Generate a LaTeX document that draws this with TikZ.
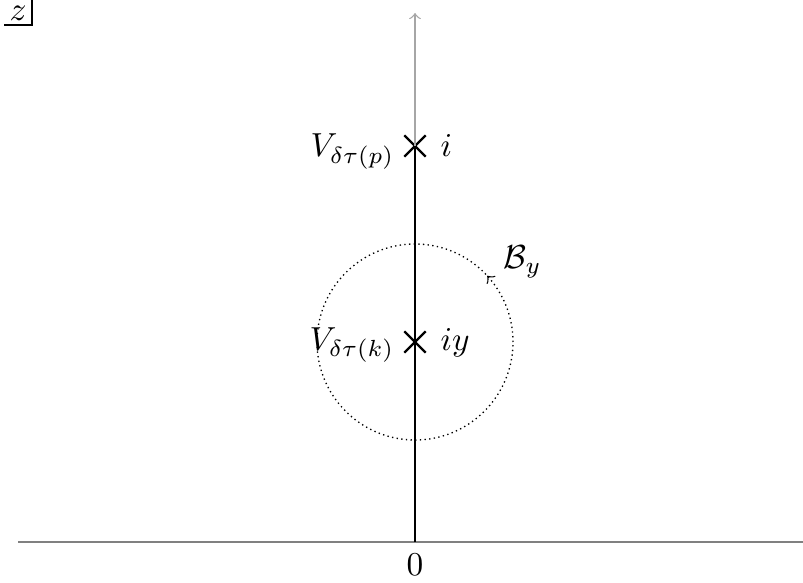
\documentclass[tikz,border=0pt]{standalone}
\usetikzlibrary{shapes.misc,decorations.markings}
\begin{document}
\begin{tikzpicture}[x=0.3pt,y=0.3pt,
  pole/.style={cross out,draw=black,line width=0.7pt,minimum size=5.7pt,inner sep=0pt},
  axisline/.style={draw=gray,line width=0.4pt},
  imagaxis/.style={draw=black!35,line width=0.4pt,-to},
  contour/.style={line width=0.8pt},
  ball/.style={densely dotted,line width=0.4pt,postaction={decorate},
    decoration={markings,mark=at position 0.118 with {\arrow{to}}}},
  lbl/.style={inner sep=0pt}]
\useasboundingbox (0,0) rectangle (803,582);
\coordinate (O) at (415,40);
\coordinate (L) at (18,40);
\coordinate (R) at (803,40);
\coordinate (T) at (415,569);
\coordinate (zc) at (32,557);
\coordinate (zl) at (4,557);
\coordinate (zt) at (32,582);
\node[pole] (pi) at (415,436) {};
\node[pole] (piy) at (415,240) {};
\draw[axisline] (L) -- (R);
\draw[imagaxis] (O) -- (T);
\draw[contour] (O) -- (pi.center);
\draw[ball] (piy.center) circle (98);
\node[anchor=north] (zero) at (O) {$0$};
\node[lbl,anchor=base east] (Vp) at (395,425) {$V_{\delta\tau(p)}$};
\node[lbl,anchor=base west] (li) at (440,425) {$i$};
\node[lbl,anchor=base east] (Vk) at (395,232) {$V_{\delta\tau(k)}$};
\node[lbl,anchor=base west] (liy) at (440,232) {$iy$};
\node[lbl,anchor=base west] (By) at (503,314) {$\mathcal{B}_y$};
\node[lbl,anchor=base] (zlab) at (18,561) {$z$};
\draw[line width=0.4pt] (zl) -- (zc) -- (zt);
\end{tikzpicture}
\end{document}
